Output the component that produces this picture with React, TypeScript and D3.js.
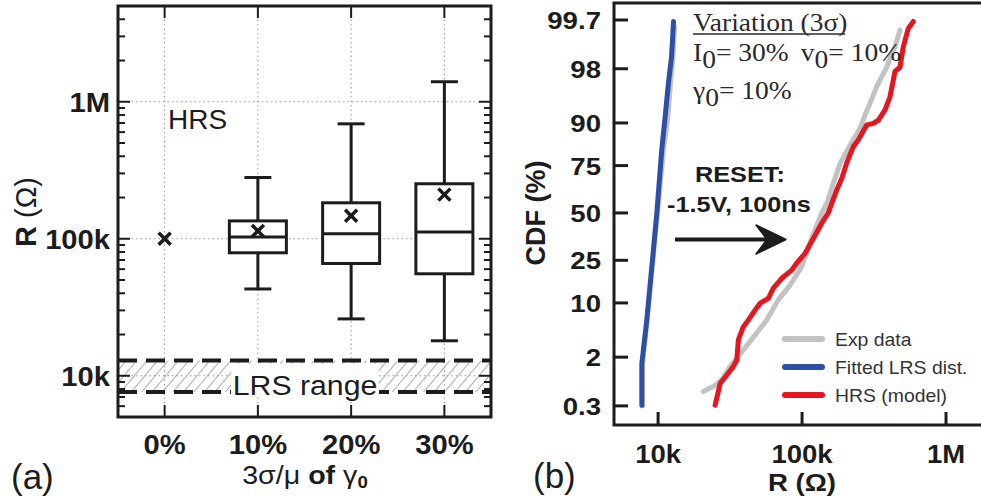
import React from "react";
import * as d3 from "d3";

// ---------- panel (a): box plots of HRS resistance ----------
const categories = ["0%", "10%", "20%", "30%"];
// values in kOhm, NaN where no box is drawn
const whiskerHi = [NaN, 280, 690, 1400];
const boxHi = [NaN, 135, 183, 252];
const medians = [NaN, 103, 109, 112];
const boxLo = [NaN, 79, 66, 55.5];
const whiskerLo = [NaN, 43, 26, 18];
const means = [100, 114, 147, 210];
const lrsRange = [7.6, 12.9];
const rTicksA = [10, 100, 1000];
const rLabelsA = ["10k", "100k", "1M"];

// ---------- panel (b): CDF curves (R in kOhm, CDF in %) ----------
const expLrsR = [7.8, 7.8, 8.4, 9.1, 9.9, 10.9, 11.7, 12.2, 12.7, 13.0];
const expLrsCdf = [0.3, 1.6, 6.4, 22, 50, 81.5, 91.5, 96.8, 98.7, 99.6];
const fitLrsR = [7.71, 7.71, 8.35, 9.04, 9.8, 10.6, 11.2, 11.8, 12.4, 12.8];
const fitLrsCdf = [0.31, 1.6, 6.4, 22, 50, 81.5, 91.5, 96.8, 98.7, 99.68];
const expHrsR = [20.6, 24.2, 27.7, 31.6, 39.1, 47.2, 56.9, 68.4, 82.6, 99.5, 111, 123, 137, 149, 165, 184, 204, 227, 253, 274, 297, 330, 358, 387, 419, 442, 479];
const expHrsCdf = [0.55, 0.67, 0.87, 1.43, 2.55, 4.11, 6.38, 10.8, 15.2, 22.2, 31.6, 40.4, 50, 55.5, 66.4, 76.1, 80.9, 85.1, 88.6, 91.9, 94.1, 96.4, 97.4, 98.1, 98.8, 99.1, 99.54];
const modelHrsR = [24.9, 27.0, 30.0, 33.3, 35.2, 36.1, 39.1, 42.4, 47.2, 51.1, 58.3, 63.2, 72.3, 84.8, 91.8, 105, 120, 137, 152, 161, 174, 189, 204, 227, 246, 281, 313, 339, 377, 408, 431, 442, 479, 505, 547, 593];
const modelHrsCdf = [0.31, 0.76, 1.05, 1.43, 1.81, 3.52, 5.26, 6.38, 8.35, 9.92, 11.2, 14.2, 17.6, 20.8, 23.7, 28.3, 35.9, 44.2, 50, 55.5, 62.8, 68.9, 76.1, 82.7, 85.1, 89.5, 89.9, 90.7, 92.9, 95.1, 97.1, 97.8, 98.1, 99.1, 99.57, 99.68];
const cdfTicks = [0.3, 2, 10, 25, 50, 75, 90, 98, 99.7];
const cdfLabels = ["0.3", "2", "10", "25", "50", "75", "90", "98", "99.7"];
const rTicksB = [10, 100, 1000];
const rLabelsB = ["10k", "100k", "1M"];
const legendNames = ["Exp data", "Fitted LRS dist.", "HRS (model)"];
const legendColors = ["#c2c2c2", "#2f4ea6", "#e8141e"];

// inverse normal CDF (Acklam) for the probability axis
function probit(p: number): number {
  const a = [-39.69683028665376, 220.9460984245205, -275.9285104469687, 138.357751867269, -30.66479806614716, 2.506628277459239];
  const b = [-54.47609879822406, 161.5858368580409, -155.6989798598866, 66.80131188771972, -13.28068155288572];
  const c = [-0.007784894002430293, -0.3223964580411365, -2.400758277161838, -2.549732539343734, 4.374664141464968, 2.938163982698783];
  const d = [0.007784695709041462, 0.3224671290700398, 2.445134137142996, 3.754408661907416];
  const tail = (q: number) =>
    (((((c[0] * q + c[1]) * q + c[2]) * q + c[3]) * q + c[4]) * q + c[5]) /
    ((((d[0] * q + d[1]) * q + d[2]) * q + d[3]) * q + 1);
  if (p < 0.02425) return tail(Math.sqrt(-2 * Math.log(p)));
  if (p > 1 - 0.02425) return -tail(Math.sqrt(-2 * Math.log(1 - p)));
  const q = p - 0.5;
  const r = q * q;
  return ((((((a[0] * r + a[1]) * r + a[2]) * r + a[3]) * r + a[4]) * r + a[5]) * q) /
    (((((b[0] * r + b[1]) * r + b[2]) * r + b[3]) * r + b[4]) * r + 1);
}

const SANS = "'Liberation Sans', Arial, sans-serif";
const SERIF = "'Liberation Serif', 'Times New Roman', serif";
const INK = "#1c1c1c";

function Label(props: any) {
  const { x, y, sx = 1, anchor = "start", size, bold, serif, rotate, children, fill = INK } = props;
  const tr = rotate ? `translate(${x},${y}) rotate(${rotate})` : `translate(${x},${y}) scale(${sx},1)`;
  return (
    <text
      transform={tr}
      textAnchor={anchor}
      fontSize={size}
      fontWeight={bold ? 700 : 400}
      fontFamily={serif ? SERIF : SANS}
      fill={fill}
    >
      {children}
    </text>
  );
}

function PanelA() {
  const left = 118, right = 491, top = 6, bottom = 417;
  const x = d3.scalePoint<string>().domain(categories).range([left, right]).padding(0.5);
  const y = d3.scaleLog().domain([5, 5000]).range([bottom, top]);
  const minor = y.ticks().filter((t) => !rTicksA.some((m) => Math.abs(m - t) < 1e-6));
  const boxW = 57, capW = 27, mk = 6;
  const lrsTop = y(lrsRange[1]);
  const lrsBot = y(lrsRange[0]);

  return (
    <g>
      <defs>
        <pattern id="hatch" width="8" height="8" patternUnits="userSpaceOnUse" patternTransform="rotate(40)">
          <line x1="0" y1="0" x2="0" y2="8" stroke="#a9a9a9" strokeWidth="1.9" />
        </pattern>
      </defs>
      {/* grid */}
      {categories.map((c) => (
        <line key={c} x1={x(c)} x2={x(c)} y1={top} y2={bottom} stroke="#9a9a9a" strokeWidth={1} strokeDasharray="1.5 3" />
      ))}
      {rTicksA.map((t) => (
        <line key={t} x1={left} x2={right} y1={y(t)} y2={y(t)} stroke="#9a9a9a" strokeWidth={1} strokeDasharray="1.5 3" />
      ))}
      {/* LRS range band */}
      <rect x={left} y={lrsTop} width={right - left} height={lrsBot - lrsTop} fill="url(#hatch)" />
      <line x1={left} x2={right} y1={lrsTop} y2={lrsTop} stroke={INK} strokeWidth={4} strokeDasharray="19 9" />
      <line x1={left} x2={right} y1={lrsBot} y2={lrsBot} stroke={INK} strokeWidth={4} strokeDasharray="19 9" />
      <rect x={231} y={lrsTop + 3} width={148} height={lrsBot - lrsTop + 2} fill="#fff" />
      <Label x={305} y={395} size={27} sx={1.12} anchor="middle">LRS range</Label>
      <Label x={168} y={129} size={28}>HRS</Label>
      {/* boxes */}
      {categories.map((c, i) => {
        const cx = x(c) as number;
        return (
          <g key={c} stroke={INK} strokeWidth={3} fill="none">
            {!isNaN(boxHi[i]) && (
              <>
                <line x1={cx} x2={cx} y1={y(whiskerHi[i])} y2={y(boxHi[i])} />
                <line x1={cx} x2={cx} y1={y(boxLo[i])} y2={y(whiskerLo[i])} />
                <line x1={cx - capW / 2} x2={cx + capW / 2} y1={y(whiskerHi[i])} y2={y(whiskerHi[i])} />
                <line x1={cx - capW / 2} x2={cx + capW / 2} y1={y(whiskerLo[i])} y2={y(whiskerLo[i])} />
                <rect x={cx - boxW / 2} y={y(boxHi[i])} width={boxW} height={y(boxLo[i]) - y(boxHi[i])} fill="#fff" />
                <line x1={cx - boxW / 2} x2={cx + boxW / 2} y1={y(medians[i])} y2={y(medians[i])} />
              </>
            )}
            <g strokeWidth={3.5}>
              <line x1={cx - mk} x2={cx + mk} y1={y(means[i]) - mk} y2={y(means[i]) + mk} />
              <line x1={cx - mk} x2={cx + mk} y1={y(means[i]) + mk} y2={y(means[i]) - mk} />
            </g>
          </g>
        );
      })}
      {/* ticks */}
      <g stroke={INK} strokeWidth={2}>
        {rTicksA.map((t) => (
          <g key={t}>
            <line x1={left} x2={left + 12} y1={y(t)} y2={y(t)} />
            <line x1={right} x2={right - 12} y1={y(t)} y2={y(t)} />
          </g>
        ))}
        {minor.map((t) => (
          <g key={t}>
            <line x1={left} x2={left + 7} y1={y(t)} y2={y(t)} />
            <line x1={right} x2={right - 7} y1={y(t)} y2={y(t)} />
          </g>
        ))}
        {categories.map((c) => (
          <g key={c}>
            <line x1={x(c)} x2={x(c)} y1={bottom} y2={bottom - 12} />
            <line x1={x(c)} x2={x(c)} y1={top} y2={top + 12} />
          </g>
        ))}
      </g>
      <rect x={left} y={top} width={right - left} height={bottom - top} fill="none" stroke={INK} strokeWidth={3} />
      {/* tick labels */}
      {rTicksA.map((t, i) => (
        <Label key={t} x={110} y={y(t) + 10} size={27} sx={1.08} bold anchor="end">{rLabelsA[i]}</Label>
      ))}
      {categories.map((c) => (
        <Label key={c} x={x(c)} y={454} size={27} sx={1.08} bold anchor="middle">{c}</Label>
      ))}
      <Label x={36} y={212} size={29} rotate={-90} anchor="middle">
        <tspan fontWeight={700}>R </tspan>
        <tspan>(Ω)</tspan>
      </Label>
      <Label x={305} y={484} size={26} sx={1.1} anchor="middle">
        <tspan>3σ/μ </tspan>
        <tspan fontWeight={700}>of </tspan>
        <tspan>γ</tspan>
        <tspan fontSize={17} fontWeight={700} dy={4}>0</tspan>
      </Label>
      <Label x={11} y={489} size={35}>(a)</Label>
    </g>
  );
}

function PanelB() {
  const left = 614, right = 981, top = 3, bottom = 425;
  const x = d3.scaleLog().domain([4.94, 1750]).range([left, right]);
  const y = d3.scaleLinear().domain([-3.02, 2.99]).range([bottom, top]);
  const line = d3
    .line<[number, number]>()
    .x((d) => x(d[0]))
    .y((d) => y(probit(d[1] / 100)));
  const pair = (rs: number[], ps: number[]) => rs.map((r, i) => [r, ps[i]] as [number, number]);
  const curves = [
    { d: pair(expLrsR, expLrsCdf), c: legendColors[0] },
    { d: pair(expHrsR, expHrsCdf), c: legendColors[0] },
    { d: pair(fitLrsR, fitLrsCdf), c: legendColors[1] },
    { d: pair(modelHrsR, modelHrsCdf), c: legendColors[2] },
  ];

  return (
    <g>
      {curves.map((cv, i) => (
        <path key={i} d={line(cv.d) || ""} fill="none" stroke={cv.c} strokeWidth={5} strokeLinejoin="round" strokeLinecap="round" />
      ))}
      {/* frame: top, left, bottom */}
      <path d={`M${right},${top}H${left}V${bottom}H${right}`} fill="none" stroke={INK} strokeWidth={3} />
      <g stroke={INK} strokeWidth={3}>
        {cdfTicks.map((t) => (
          <line key={t} x1={left} x2={left + 14} y1={y(probit(t / 100))} y2={y(probit(t / 100))} />
        ))}
        {rTicksB.map((t) => (
          <line key={t} x1={x(t)} x2={x(t)} y1={bottom} y2={bottom - 13} />
        ))}
      </g>
      {cdfTicks.map((t, i) => (
        <Label key={t} x={601} y={y(probit(t / 100)) + 9} size={24} sx={1.15} bold anchor="end">{cdfLabels[i]}</Label>
      ))}
      {rTicksB.map((t, i) => (
        <Label key={t} x={x(t)} y={463} size={25} sx={1.1} bold anchor="middle">{rLabelsB[i]}</Label>
      ))}
      <Label x={545} y={213} size={27} bold rotate={-90} anchor="middle">CDF (%)</Label>
      <Label x={802} y={491} size={24} sx={1.15} bold anchor="middle">R (Ω)</Label>
      <Label x={533} y={488} size={35}>(b)</Label>

      {/* variation annotation */}
      <Label x={693} y={31} size={25} sx={1.1} serif fill="#2a2a2a">Variation (3σ)</Label>
      <line x1={693} x2={845} y1={34} y2={34} stroke="#2a2a2a" strokeWidth={1.3} />
      <Label x={693} y={61} size={25} sx={1.1} serif fill="#2a2a2a">
        <tspan>I</tspan>
        <tspan dy={7}>0</tspan>
        <tspan dy={-7}>= 30%</tspan>
        <tspan dx={11}>v</tspan>
        <tspan dy={7}>0</tspan>
        <tspan dy={-7}>= 10%</tspan>
      </Label>
      <Label x={693} y={99} size={25} sx={1.1} serif fill="#2a2a2a">
        <tspan>γ</tspan>
        <tspan dy={7}>0</tspan>
        <tspan dy={-7}>= 10%</tspan>
      </Label>

      {/* RESET arrow */}
      <Label x={695} y={182} size={22} sx={1.15} bold>RESET:</Label>
      <Label x={667} y={212} size={22} sx={1.15} bold>-1.5V, 100ns</Label>
      <line x1={675} x2={770} y1={239.5} y2={239.5} stroke={INK} strokeWidth={4} />
      <path d="M786,239.5 L756,225 L767,239.5 L756,254 Z" fill={INK} stroke={INK} strokeWidth={1.5} strokeLinejoin="round" />

      {/* legend */}
      {legendNames.map((n, i) => (
        <g key={n}>
          <line x1={785} x2={822} y1={339 + i * 28} y2={339 + i * 28} stroke={legendColors[i]} strokeWidth={6} strokeLinecap="round" />
          <Label x={835} y={346 + i * 28} size={19} sx={1.02} fill="#333">{n}</Label>
        </g>
      ))}
    </g>
  );
}

export default function App() {
  return (
    <svg
      width={981}
      height={502}
      style={{ position: "absolute", left: 0, top: 0, background: "#fff" }}
    >
      <rect width={981} height={502} fill="#fff" />
      <PanelA />
      <PanelB />
    </svg>
  );
}
